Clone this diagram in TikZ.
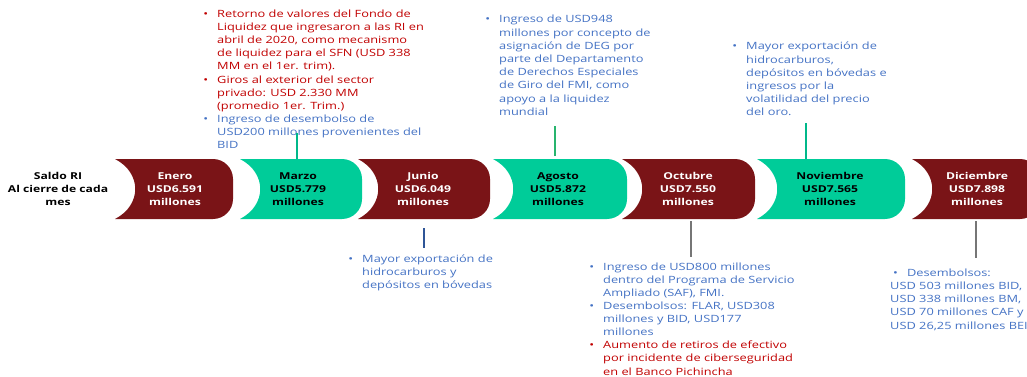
\documentclass[tikz,border=0pt]{standalone}
\usepackage{fontspec}
\setmainfont{Open Sans}[FakeStretch=1.28]
\usetikzlibrary{positioning}
\definecolor{granate}{RGB}{122,20,23}
\definecolor{verdemes}{RGB}{0,204,153}
\definecolor{rojonota}{RGB}{192,0,0}
\definecolor{azulnota}{RGB}{68,114,196}
\definecolor{verdeenlace}{RGB}{40,180,110}
\definecolor{azulenlace}{RGB}{47,85,151}
\definecolor{grisenlace}{RGB}{118,118,118}
\tikzset{mesGranate/.style={fill=granate}}
\tikzset{mesVerde/.style={fill=verdemes}}
\tikzset{etiquetaMes/.style={font=\fontsize{9.5}{12.7}\selectfont\bfseries, align=center, inner sep=0pt}}
\tikzset{notaAzul/.style={text=azulnota, font=\fontsize{10}{13.2}\selectfont, align=left, inner sep=0pt, anchor=base west}}
\tikzset{notaRoja/.style={notaAzul, text=rojonota}}
\tikzset{enlace/.style={line width=1.6pt}}
\newcommand{\vineta}{\makebox[0pt][r]{\textbullet\hspace{9pt}}}
\newcommand{\tramo}[3]{\fill[#3] (#1,159) -- ({#2-20},159) .. controls ({#2-9},159) and (#2,168) .. (#2,179) -- (#2,199) .. controls (#2,210) and ({#2-9},219) .. ({#2-20},219) -- (#1,219) .. controls ({#1+27},205) and ({#1+27},173) .. (#1,159) -- cycle;}

\begin{document}
\begin{tikzpicture}[x=1pt,y=-1pt]
\useasboundingbox (0,0) rectangle (1027,377);

% months
\tramo{115}{233}{mesGranate}
\tramo{240}{362}{mesVerde}
\tramo{358}{490}{mesGranate}
\tramo{493}{627}{mesVerde}
\tramo{622}{755}{mesGranate}
\tramo{757}{905}{mesVerde}
\tramo{912}{1040}{mesGranate}

\node[etiquetaMes] (saldo) at (58,189) {Saldo RI\\Al cierre de cada\\mes};
\node[etiquetaMes,text=white] (enero) at (175,189) {Enero\\USD6.591\\millones};
\node[etiquetaMes] (marzo) at (298,189) {Marzo\\USD5.779\\millones};
\node[etiquetaMes,text=white] (junio) at (423,189) {Junio\\USD6.049\\millones};
\node[etiquetaMes] (agosto) at (558,189) {Agosto\\USD5.872\\millones};
\node[etiquetaMes,text=white] (octubre) at (688,189) {Octubre\\USD7.550\\millones};
\node[etiquetaMes] (noviembre) at (830,189) {Noviembre\\USD7.565\\millones};
\node[etiquetaMes,text=white] (diciembre) at (977,189) {Diciembre\\USD7.898\\millones};

% marzo notes (anchored at last baseline)
\node[notaRoja] (marzoA) at (217,70) {\vineta Retorno de valores del Fondo de\\Liquidez que ingresaron a las RI en\\abril de 2020, como mecanismo\\de liquidez para el SFN (USD 338\\MM en el 1er. trim).};
\node[notaRoja] (marzoB) at (217,109.4) {\vineta Giros al exterior del sector\\privado: USD 2.330 MM\\(promedio 1er. Trim.)};
\node[notaAzul] (marzoC) at (217,148.4) {\vineta Ingreso de desembolso de\\USD200 millones provenientes del\\BID};
\coordinate (marzoArriba) at (297,159);
\coordinate (marzoFin) at (297,133);
\draw[enlace,verdemes!90!black] (marzoArriba) -- (marzoFin);

% agosto notes
\node[notaAzul] (agostoA) at (499,115.4) {\vineta Ingreso de USD948\\millones por concepto de\\asignación de DEG por\\parte del Departamento\\de Derechos Especiales\\de Giro del FMI, como\\apoyo a la liquidez\\mundial};
\coordinate (agostoArriba) at (555,156);
\coordinate (agostoFin) at (555,126);
\draw[enlace,verdeenlace] (agostoArriba) -- (agostoFin);

% noviembre notes
\node[notaAzul] (noviembreA) at (746,116) {\vineta Mayor exportación de\\hidrocarburos,\\depósitos en bóvedas e\\ingresos por la\\volatilidad del precio\\del oro.};
\coordinate (noviembreArriba) at (806,159);
\coordinate (noviembreFin) at (806,123);
\draw[enlace,verdemes!90!black] (noviembreArriba) -- (noviembreFin);

% junio notes
\coordinate (junioAbajo) at (424,228);
\coordinate (junioFin) at (424,248);
\draw[enlace,azulenlace] (junioAbajo) -- (junioFin);
\node[notaAzul] (junioA) at (362,288.4) {\vineta Mayor exportación de\\hidrocarburos y\\depósitos en bóvedas};

% octubre notes
\coordinate (octubreAbajo) at (691,221);
\coordinate (octubreFin) at (691,257);
\draw[enlace,grisenlace] (octubreAbajo) -- (octubreFin);
\node[notaAzul] (octubreA) at (603,296.4) {\vineta Ingreso de USD800 millones\\dentro del Programa de Servicio\\Ampliado (SAF), FMI.};
\node[notaAzul] (octubreB) at (603,335.4) {\vineta Desembolsos: FLAR, USD308\\millones y BID, USD177\\millones};
\node[notaRoja] (octubreC) at (603,375) {\vineta Aumento de retiros de efectivo\\por incidente de ciberseguridad\\en el Banco Pichincha};

% diciembre notes
\coordinate (diciembreAbajo) at (976,221);
\coordinate (diciembreFin) at (976,258);
\draw[enlace,grisenlace] (diciembreAbajo) -- (diciembreFin);
\node[notaAzul] (diciembreA) at (890,329) {\hspace{3pt}\textbullet\hspace{9pt}Desembolsos:\\USD 503 millones BID,\\USD 338 millones BM,\\USD 70 millones CAF y\\USD 26,25 millones BEI};
\end{tikzpicture}
\end{document}
